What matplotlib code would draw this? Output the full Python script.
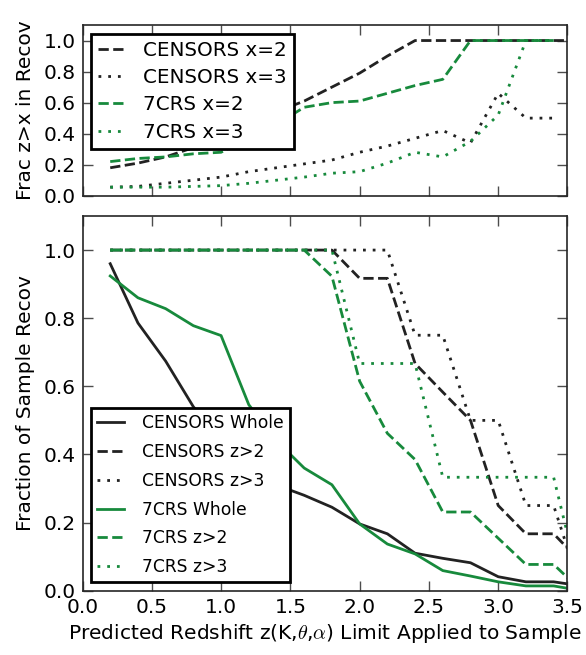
import numpy as np
import matplotlib
matplotlib.use("Agg")
import matplotlib.pyplot as plt

# redshift limit steps
z_top = [0.2, 0.4, 0.6, 0.8, 1.0, 1.2, 1.4, 1.6, 1.8, 2.0, 2.2, 2.4, 2.6, 2.8, 3.0, 3.2, 3.4, 3.6]
z_bot = [0.2, 0.4, 0.6, 0.8, 1.0, 1.2, 1.4, 1.6, 1.8, 2.0, 2.2, 2.4, 2.6, 2.8, 3.0, 3.2, 3.4, 3.6]

# top panel: fraction z>x in recovered sample
nan = np.nan
censors_x2 = [0.18, 0.21, 0.25, 0.31, 0.37, 0.46, 0.54, 0.61, 0.70, 0.79, 0.90, 1.0, 1.0, 1.0, 1.0, 1.0, 1.0, 1.0]
censors_x3 = [0.055, 0.06, 0.08, 0.10, 0.12, 0.155, 0.18, 0.205, 0.23, 0.28, 0.32, 0.37, 0.42, 0.34, 0.66, 0.50, 0.50, nan]
crs_x2 = [0.22, 0.24, 0.25, 0.27, 0.28, 0.37, 0.46, 0.57, 0.60, 0.61, 0.66, 0.71, 0.75, 1.0, 1.0, 1.0, 1.0, nan]
crs_x3 = [0.055, 0.055, 0.055, 0.06, 0.065, 0.08, 0.10, 0.12, 0.145, 0.155, 0.21, 0.28, 0.25, 0.35, 0.52, 1.0, 1.0, nan]

# bottom panel: fraction of sample recovered
censors_whole = [0.96, 0.786, 0.674, 0.54, 0.44, 0.37, 0.31, 0.28, 0.245, 0.196, 0.167, 0.11, 0.095, 0.082, 0.041, 0.026, 0.026, 0.014]
censors_z2 = [1.0, 1.0, 1.0, 1.0, 1.0, 1.0, 1.0, 1.0, 1.0, 0.917, 0.917, 0.667, 0.583, 0.5, 0.25, 0.167, 0.167, 0.083]
censors_z3 = [1.0, 1.0, 1.0, 1.0, 1.0, 1.0, 1.0, 1.0, 1.0, 1.0, 1.0, 0.75, 0.75, 0.5, 0.5, 0.25, 0.25, 0.0]
crs_whole = [0.924, 0.86, 0.828, 0.778, 0.749, 0.546, 0.44, 0.36, 0.311, 0.196, 0.137, 0.108, 0.059, 0.043, 0.026, 0.014, 0.014, 0.0]
crs_z2 = [1.0, 1.0, 1.0, 1.0, 1.0, 1.0, 1.0, 1.0, 0.923, 0.615, 0.462, 0.385, 0.231, 0.231, 0.154, 0.077, 0.077, 0.0]
crs_z3 = [1.0, 1.0, 1.0, 1.0, 1.0, 1.0, 1.0, 1.0, 1.0, 0.667, 0.667, 0.667, 0.333, 0.333, 0.333, 0.333, 0.333, 0.0]

BLACK = "#222222"
GREEN = "#178a3c"
DOT = (0, (1, 2.5))
FS = 14.5

plt.rcParams["font.family"] = "DejaVu Sans"
plt.rcParams["mathtext.fontset"] = "cm"
plt.rcParams["font.size"] = FS


def style_axes(ax):
    ax.set_xlim(0, 3.5)
    ax.set_ylim(0, 1.1)
    ax.set_yticks([0.0, 0.2, 0.4, 0.6, 0.8, 1.0])
    ax.set_xticks([0.0, 0.5, 1.0, 1.5, 2.0, 2.5, 3.0, 3.5])
    ax.tick_params(direction="in", top=True, right=True, length=7, width=1,
                   color="0.3", labelsize=FS, pad=5)
    for s in ax.spines.values():
        s.set_color("0.15")
        s.set_linewidth(1.2)


def make_legend(ax, loc, fs, hl, htp, bap, ls):
    leg = ax.legend(loc=loc, fontsize=fs, fancybox=False, framealpha=1,
                    handlelength=hl, handletextpad=htp, borderaxespad=bap,
                    labelspacing=ls, borderpad=0.35)
    leg.get_frame().set_edgecolor("black")
    leg.get_frame().set_linewidth(2)


fig = plt.figure(figsize=(5.86, 6.55), dpi=100)
ax1 = fig.add_axes([0.1408, 0.7012, 0.8276, 0.2606])
ax2 = fig.add_axes([0.1408, 0.0982, 0.8276, 0.5720])

ax1.plot(z_top, censors_x2, color=BLACK, ls="--", lw=2, label="CENSORS x=2")
ax1.plot(z_top, censors_x3, color=BLACK, ls=DOT, lw=2, label="CENSORS x=3")
ax1.plot(z_top, crs_x2, color=GREEN, ls="--", lw=2, label="7CRS x=2")
ax1.plot(z_top, crs_x3, color=GREEN, ls=DOT, lw=2, label="7CRS x=3")
style_axes(ax1)
ax1.set_xticklabels([])
ax1.set_ylabel("Frac z>x in Recov", fontsize=FS, labelpad=6)
make_legend(ax1, "upper left", 14.3, 1.35, 0.9, 0.44, 0.42)

ax2.plot(z_bot, censors_whole, color=BLACK, ls="-", lw=2, label="CENSORS Whole")
ax2.plot(z_bot, censors_z2, color=BLACK, ls="--", lw=2, label="CENSORS z>2")
ax2.plot(z_bot, censors_z3, color=BLACK, ls=DOT, lw=2, label="CENSORS z>3")
ax2.plot(z_bot, crs_whole, color=GREEN, ls="-", lw=2, label="7CRS Whole")
ax2.plot(z_bot, crs_z2, color=GREEN, ls="--", lw=2, label="7CRS z>2")
ax2.plot(z_bot, crs_z3, color=GREEN, ls=DOT, lw=2, label="7CRS z>3")
style_axes(ax2)
ax2.set_ylabel("Fraction of Sample Recov", fontsize=FS, labelpad=6)
ax2.set_xlabel(r"Predicted Redshift z(K,$\theta$,$\alpha$) Limit Applied to Sample", fontsize=FS)
make_legend(ax2, "lower left", 12.3, 1.58, 1.05, 0.5, 0.63)

fig.savefig("out.png", dpi=100)
